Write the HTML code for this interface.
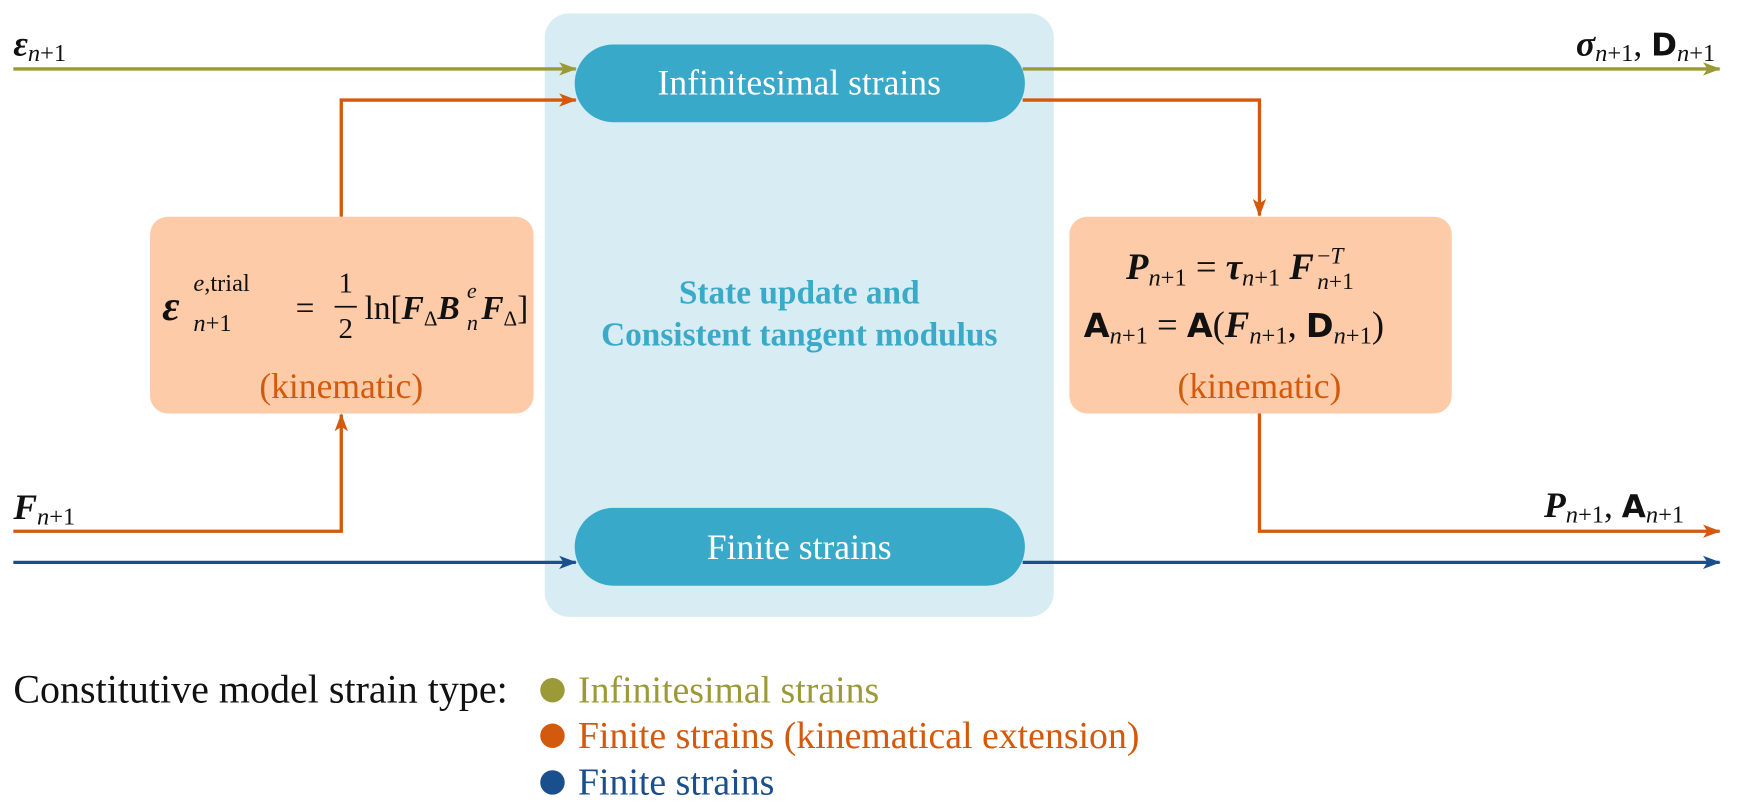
<!DOCTYPE html>
<html><head><meta charset="utf-8"><style>
body{margin:0;background:#fff;}
svg{display:block;}
.m{font-family:"Liberation Serif","DejaVu Serif",serif;}
</style></head><body>
<svg width="1743" height="808" viewBox="0 0 1568 727" preserveAspectRatio="none" xmlns="http://www.w3.org/2000/svg">
<defs>
<marker id="ao" markerWidth="16" markerHeight="12" refX="15" refY="6" orient="auto" markerUnits="userSpaceOnUse" viewBox="0 0 16 12"><path d="M0,0 L16,6 L0,12 L4,6Z" fill="#d35a0c"/></marker>
<marker id="ag" markerWidth="16" markerHeight="12" refX="15" refY="6" orient="auto" markerUnits="userSpaceOnUse" viewBox="0 0 16 12"><path d="M0,0 L16,6 L0,12 L4,6Z" fill="#9c9a36"/></marker>
<marker id="ab" markerWidth="16" markerHeight="12" refX="15" refY="6" orient="auto" markerUnits="userSpaceOnUse" viewBox="0 0 16 12"><path d="M0,0 L16,6 L0,12 L4,6Z" fill="#1a4f8e"/></marker>
</defs>
<rect x="490" y="12" width="458" height="543" rx="22" fill="#d7edf3"/>
<g fill="none" stroke-width="3">
<line x1="12" y1="62" x2="518" y2="62" stroke="#9c9a36" marker-end="url(#ag)"/>
<line x1="920" y1="62" x2="1547" y2="62" stroke="#9c9a36" marker-end="url(#ag)"/>
<polyline points="307,195 307,90 518,90" stroke="#d35a0c" marker-end="url(#ao)"/>
<polyline points="920,90 1133,90 1133,194" stroke="#d35a0c" marker-end="url(#ao)"/>
<polyline points="12,478 307,478 307,373" stroke="#d35a0c" marker-end="url(#ao)"/>
<polyline points="1133,372 1133,478 1547,478" stroke="#d35a0c" marker-end="url(#ao)"/>
<line x1="12" y1="506" x2="518" y2="506" stroke="#1a4f8e" marker-end="url(#ab)"/>
<line x1="920" y1="506" x2="1547" y2="506" stroke="#1a4f8e" marker-end="url(#ab)"/>
</g>
<rect x="517" y="40" width="405" height="70" rx="35" fill="#38a9c8"/>
<rect x="517" y="457" width="405" height="70" rx="35" fill="#38a9c8"/>
<text x="719" y="85" class="m" font-size="32" fill="#fff" text-anchor="middle">Infinitesimal strains</text>
<text x="719" y="503" class="m" font-size="32" fill="#fff" text-anchor="middle">Finite strains</text>
<text x="719" y="273" class="m" font-size="30" font-weight="bold" fill="#3aaac8" text-anchor="middle">State update and</text>
<text x="719" y="311" class="m" font-size="30" font-weight="bold" fill="#3aaac8" text-anchor="middle">Consistent tangent modulus</text>
<rect x="135" y="195" width="345" height="177" rx="16" fill="#fdcba8"/>
<rect x="962" y="195" width="344" height="177" rx="16" fill="#fdcba8"/>
<g class="m" fill="#111">
<text x="146" y="288" font-size="38" font-weight="bold" font-style="italic">ε</text>
<text x="174" y="262" font-size="22" font-style="italic">e<tspan font-style="normal">,trial</tspan></text>
<text x="174" y="298" font-size="22"><tspan font-style="italic">n</tspan>+1</text>
<text x="266" y="287" font-size="30">=</text>
<text x="311" y="263" font-size="26" text-anchor="middle">1</text>
<line x1="301" y1="276" x2="321" y2="276" stroke="#111" stroke-width="1.5"/>
<text x="311" y="304" font-size="26" text-anchor="middle">2</text>
<text x="328" y="287" font-size="30">ln[<tspan font-weight="bold" font-style="italic">F</tspan><tspan font-size="19" dy="6">Δ</tspan><tspan font-weight="bold" font-style="italic" dy="-6">B</tspan></text>
<text x="420" y="268" font-size="20" font-style="italic">e</text>
<text x="420" y="297" font-size="20" font-style="italic">n</text>
<text x="433" y="287" font-size="30"><tspan font-weight="bold" font-style="italic">F</tspan><tspan font-size="19" dy="6">Δ</tspan><tspan dy="-6">]</tspan></text>
</g>
<text x="307" y="358" class="m" font-size="32" fill="#d35a0c" text-anchor="middle">(kinematic)</text>
<g class="m" fill="#111">
<text x="1013" y="251" font-size="33"><tspan font-weight="bold" font-style="italic">P</tspan><tspan font-size="22" dy="6"><tspan font-style="italic">n</tspan>+1</tspan><tspan dy="-6"> = </tspan><tspan font-weight="bold" font-style="italic">τ</tspan><tspan font-size="22" dy="6"><tspan font-style="italic">n</tspan>+1</tspan><tspan dy="-6"> </tspan><tspan font-weight="bold" font-style="italic">F</tspan></text>
<text x="1185" y="237" font-size="21">−<tspan font-style="italic">T</tspan></text>
<text x="1185" y="260" font-size="21"><tspan font-style="italic">n</tspan>+1</text>
<text x="975" y="303" font-size="33"><tspan font-family="DejaVu Sans" font-weight="bold" font-size="30">A</tspan><tspan font-size="22" dy="6"><tspan font-style="italic">n</tspan>+1</tspan><tspan dy="-6"> = </tspan><tspan font-family="DejaVu Sans" font-weight="bold" font-size="30">A</tspan>(<tspan font-weight="bold" font-style="italic">F</tspan><tspan font-size="22" dy="6"><tspan font-style="italic">n</tspan>+1</tspan><tspan dy="-6">, </tspan><tspan font-family="DejaVu Sans" font-weight="bold" font-size="30">D</tspan><tspan font-size="22" dy="6"><tspan font-style="italic">n</tspan>+1</tspan><tspan dy="-6">)</tspan></text>
</g>
<text x="1133" y="358" class="m" font-size="32" fill="#d35a0c" text-anchor="middle">(kinematic)</text>
<g class="m" fill="#111">
<text x="12" y="50" font-size="32"><tspan font-weight="bold" font-style="italic">ε</tspan><tspan font-size="22" dy="5"><tspan font-style="italic">n</tspan>+1</tspan></text>
<text x="12" y="467" font-size="32"><tspan font-weight="bold" font-style="italic">F</tspan><tspan font-size="22" dy="5"><tspan font-style="italic">n</tspan>+1</tspan></text>
<text x="1543" y="50" font-size="32" text-anchor="end"><tspan font-weight="bold" font-style="italic">σ</tspan><tspan font-size="22" dy="5"><tspan font-style="italic">n</tspan>+1</tspan><tspan dy="-5">, </tspan><tspan font-family="DejaVu Sans" font-weight="bold" font-size="28">D</tspan><tspan font-size="22" dy="5"><tspan font-style="italic">n</tspan>+1</tspan></text>
<text x="1515" y="465" font-size="32" text-anchor="end"><tspan font-weight="bold" font-style="italic">P</tspan><tspan font-size="22" dy="5"><tspan font-style="italic">n</tspan>+1</tspan><tspan dy="-5">, </tspan><tspan font-family="DejaVu Sans" font-weight="bold" font-size="28">A</tspan><tspan font-size="22" dy="5"><tspan font-style="italic">n</tspan>+1</tspan></text>
</g>
<text x="12" y="632" class="m" font-size="36" fill="#111">Constitutive model strain type:</text>
<circle cx="497" cy="621" r="11" fill="#9c9a36"/>
<circle cx="497" cy="662" r="11" fill="#d35a0c"/>
<circle cx="497" cy="704" r="11" fill="#1a4f8e"/>
<text x="520" y="632" class="m" font-size="34" fill="#9c9a36">Infinitesimal strains</text>
<text x="520" y="673" class="m" font-size="34" fill="#d35a0c">Finite strains (kinematical extension)</text>
<text x="520" y="715" class="m" font-size="34" fill="#1a4f8e">Finite strains</text>
</svg>
</body></html>
